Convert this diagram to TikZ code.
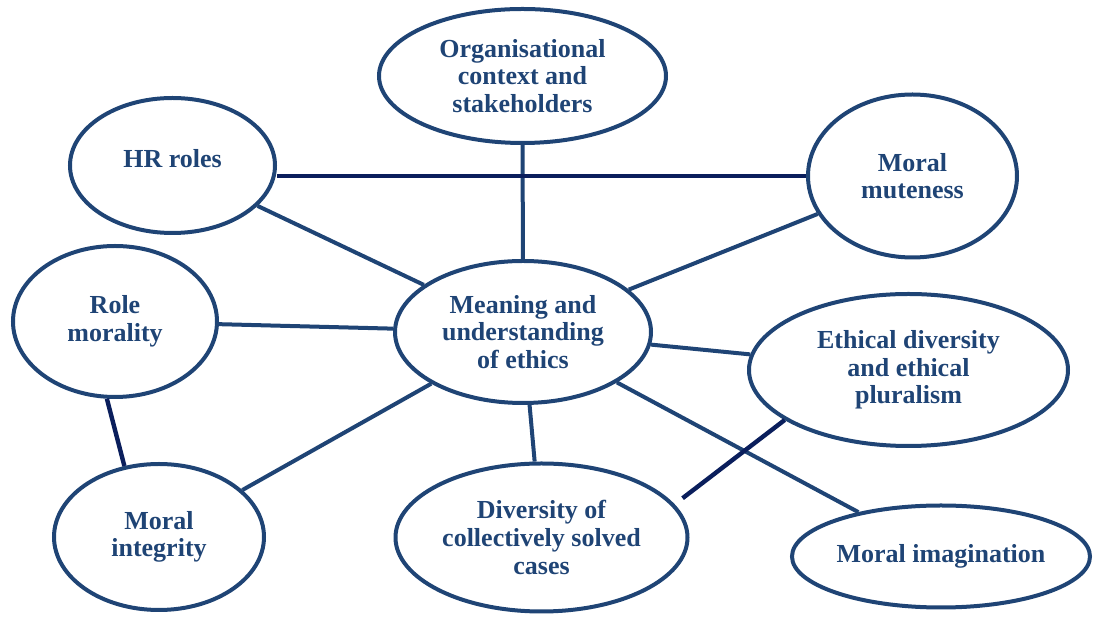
\documentclass[tikz,border=0pt]{standalone}
\usepackage{fontspec}
\setmainfont{Liberation Serif}
\usepackage{tikz}
\usetikzlibrary{shapes.geometric, calc}
\definecolor{ellipseblue}{RGB}{31,68,117}
\definecolor{linkdark}{RGB}{10,30,92}

\begin{document}
\begin{tikzpicture}[
    x=0.5pt, y=-0.5pt,
    topic/.style={ellipse, draw=ellipseblue, line width=2pt, inner sep=0pt, align=center,
        text=ellipseblue, font=\bfseries\fontsize{13pt}{13.8pt}\selectfont},
    link/.style={draw=ellipseblue, line width=2pt},
    darklink/.style={draw=linkdark, line width=2.2pt}
]
    \useasboundingbox (0,0) rectangle (1094,619);

    % Topics
    \node[topic, minimum width=143.5pt, minimum height=67pt] (org) at (522.5,76) {Organisational\\context and\\stakeholders};
    \node[topic, minimum width=102.5pt, minimum height=67.5pt, text depth=7pt] (hr) at (172.5,165.5) {HR roles};
    \node[topic, minimum width=104.5pt, minimum height=81.5pt] (mute) at (912.5,176) {Moral\\muteness};
    \node[topic, minimum width=102pt, minimum height=75.5pt] (role) at (115,321.5) {Role\\morality};
    \node[topic, minimum width=128pt, minimum height=71pt] (ethics) at (523,332) {Meaning and\\understanding\\of ethics};
    \node[topic, minimum width=159.5pt, minimum height=76pt] (plural) at (908.5,370) {Ethical diversity\\and ethical\\pluralism};
    \node[topic, minimum width=105pt, minimum height=73pt] (integrity) at (159,537) {Moral\\integrity};
    \node[topic, minimum width=146pt, minimum height=74pt] (cases) at (541.5,537.5) {Diversity of\\collectively solved\\cases};
    \node[topic, minimum width=149pt, minimum height=51pt] (imag) at (941,556.5) {Moral imagination};

    % Links to the centre
    \draw[link] (org) -- (ethics);
    \draw[link] (hr) -- (ethics);
    \draw[link] (mute) -- (ethics);
    \draw[link] (role) -- (ethics);
    \draw[link] (ethics) -- (plural);
    \draw[link] (ethics) -- (integrity);
    \draw[link] (ethics) -- (cases);
    \draw[link] (ethics) -- (imag);

    % Side links
    \draw[darklink] (hr.east |- mute.west) -- (mute.west);
    \draw[darklink] (role.264) -- (integrity.116);
    \draw[darklink, shorten >=5pt] (plural.202) -- (cases.14);
\end{tikzpicture}
\end{document}
